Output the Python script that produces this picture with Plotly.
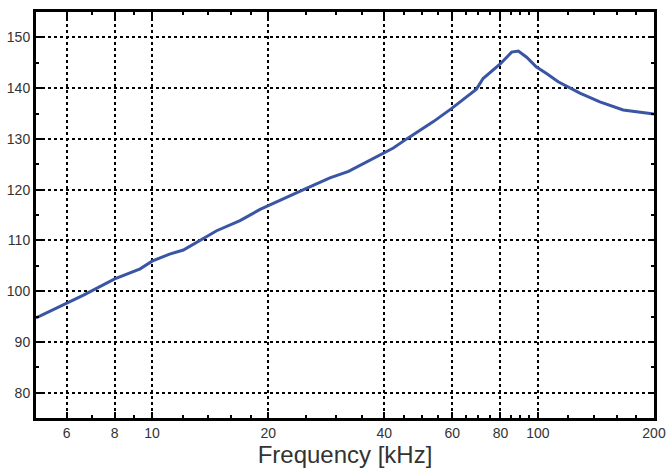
import plotly.graph_objects as go

freq_khz = [5, 6, 6.64, 8, 9.31, 10, 11.1, 12.05, 13.3, 14.7, 16.9, 19.05, 24.7, 28.9,
            32.3, 39.7, 42.2, 45.7, 53.6, 59.8, 69.3, 72.1, 80, 85.5, 89, 93.5, 99,
            105.3, 112.9, 128.5, 144.8, 166.4, 200]
level = [94.7, 97.5, 99.2, 102.4, 104.4, 105.9, 107.3, 108.1, 110.0, 111.9, 113.9, 116.1,
         120.0, 122.3, 123.6, 127.2, 128.2, 130.0, 133.4, 136.0, 139.8, 141.9, 144.8,
         147.1, 147.3, 146.1, 144.2, 142.9, 141.25, 139.0, 137.3, 135.7, 134.9]

x_ticks = [6, 8, 10, 20, 40, 60, 80, 100, 200]
x_minor = [7, 9, 12, 14, 16, 18, 25, 30, 35, 45, 50, 55, 65, 70, 75, 85, 90, 95,
           120, 140, 160, 180]
y_ticks = [80, 90, 100, 110, 120, 130, 140, 150]
y_minor = [85, 95, 105, 115, 125, 135, 145]

fig = go.Figure()
fig.add_trace(go.Scatter(x=freq_khz, y=level, mode="lines",
                         line=dict(color="#3a55a4", width=3)))

tickfont = dict(family="Liberation Sans, Arial, sans-serif", size=14, color="#333333")
common = dict(showline=True, linecolor="black", linewidth=3, mirror="allticks",
              ticks="inside", tickcolor="black", tickwidth=2, ticklen=6,
              showgrid=True, gridcolor="black", griddash="dot", gridwidth=1.5,
              zeroline=False, tickfont=tickfont, automargin=False)

fig.update_layout(
    width=667, height=468,
    margin=dict(l=36, r=13, t=12, b=50),
    paper_bgcolor="white", plot_bgcolor="white",
    showlegend=False,
    xaxis=dict(type="log", range=[0.69897, 2.30103], tickmode="array",
               tickvals=x_ticks, ticktext=[str(v) for v in x_ticks],
               minor=dict(tickmode="array", tickvals=x_minor, ticks="inside",
                          ticklen=3, tickwidth=2, tickcolor="black", showgrid=False),
               title=dict(text="Frequency [kHz]", standoff=8,
                          font=dict(family="Liberation Sans, Arial, sans-serif",
                                    size=24, color="#333333")),
               **common),
    yaxis=dict(range=[75, 155], tickmode="array", tickvals=y_ticks,
               minor=dict(tickmode="array", tickvals=y_minor, ticks="inside",
                          ticklen=3, tickwidth=2, tickcolor="black", showgrid=False),
               **common),
)

fig.write_html("out.html", config={"displayModeBar": False},
               post_script="document.body.style.margin='0';document.body.style.overflow='hidden';")
